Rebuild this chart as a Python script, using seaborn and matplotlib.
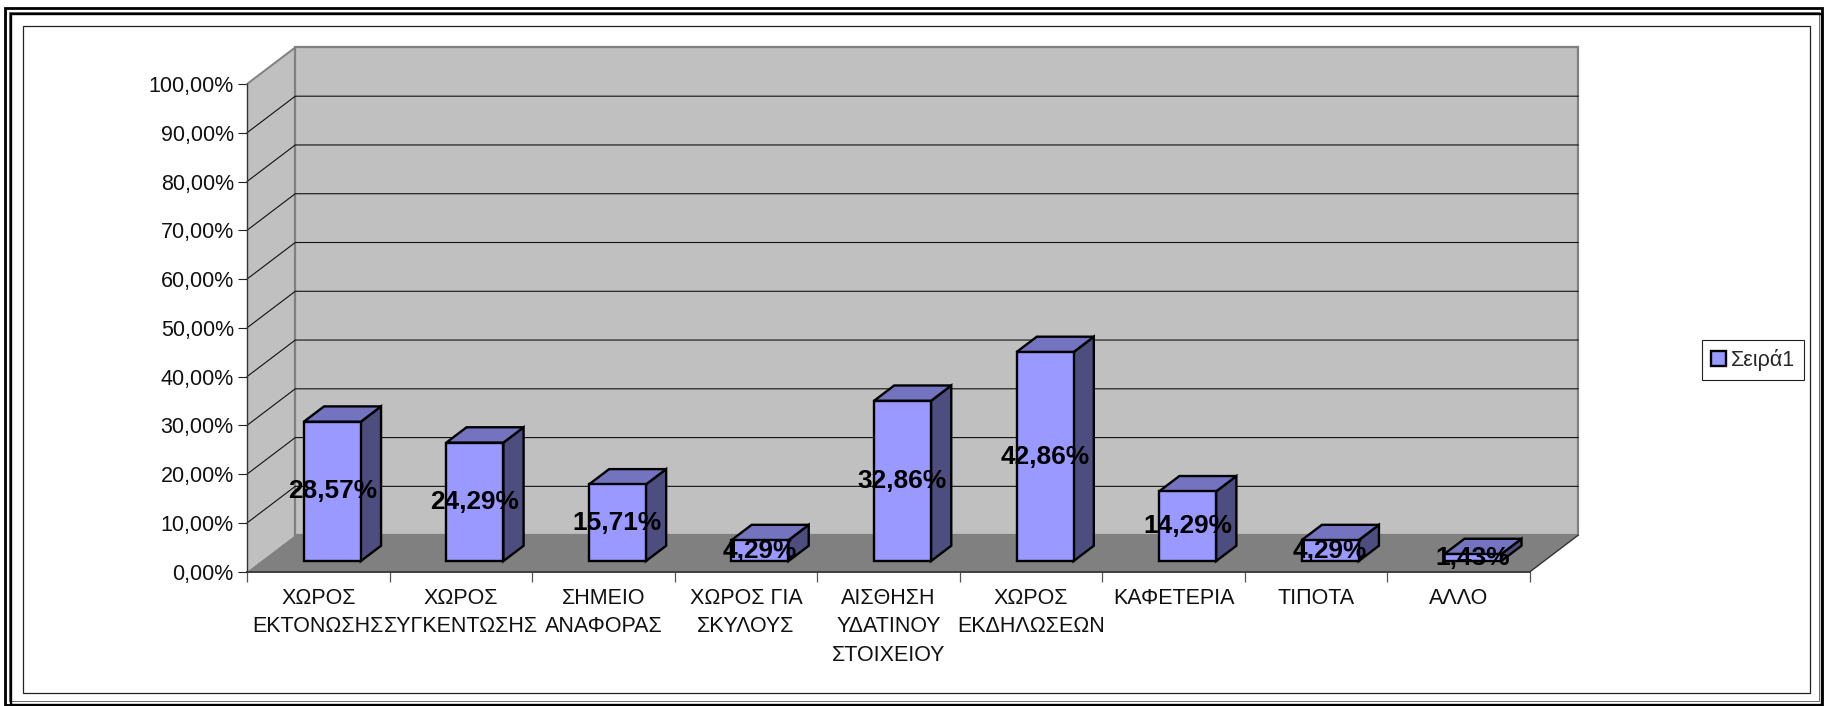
import matplotlib
matplotlib.use("Agg")
import matplotlib.pyplot as plt
from matplotlib.patches import Polygon, Rectangle
import seaborn as sns

categories = [
    "ΧΩΡΟΣ\nΕΚΤΟΝΩΣΗΣ",
    "ΧΩΡΟΣ\nΣΥΓΚΕΝΤΩΣΗΣ",
    "ΣΗΜΕΙΟ\nΑΝΑΦΟΡΑΣ",
    "ΧΩΡΟΣ ΓΙΑ\nΣΚΥΛΟΥΣ",
    "ΑΙΣΘΗΣΗ\nΥΔΑΤΙΝΟΥ\nΣΤΟΙΧΕΙΟΥ",
    "ΧΩΡΟΣ\nΕΚΔΗΛΩΣΕΩΝ",
    "ΚΑΦΕΤΕΡΙΑ",
    "ΤΙΠΟΤΑ",
    "ΑΛΛΟ",
]
values = [28.57, 24.29, 15.71, 4.29, 32.86, 42.86, 14.29, 4.29, 1.43]
y_ticks = [0, 10, 20, 30, 40, 50, 60, 70, 80, 90, 100]
series_name = "Σειρά1"

W, H = 1826, 706
# oblique projection of the excel style 3d box, in data units per full depth
DEPTH_X = 0.3385
DEPTH_Y = 7.5
BAR_D0, BAR_D1 = 0.29, 0.71


def proj(x, y, d):
    return (x + d * DEPTH_X, y + d * DEPTH_Y)


def pct(v):
    return f"{v:.2f}%".replace(".", ",")


sns.set_style("white")
plt.rcParams["font.family"] = ["Liberation Sans", "DejaVu Sans"]

fig = plt.figure(figsize=(W / 100, H / 100), dpi=100, facecolor="white")
ax = fig.add_axes([247 / W, (H - 571.7) / H, (1530 - 247) / W, 487.7 / H])
ax.patch.set_visible(False)

# outer page borders
for x0, y0, x1, y1, lw, col in [
    (4.7, 8, 1822, 705, 2.0, "black"),
    (8.5, 11.5, 1819, 701, 0.6, "#555555"),
    (10.7, 14, 1822, 704.5, 1.7, "black"),
    (23, 26, 1810, 693, 0.9, "#222222"),
]:
    fig.add_artist(
        Rectangle(
            (x0 / W, (H - y1) / H),
            (x1 - x0) / W,
            (y1 - y0) / H,
            transform=fig.transFigure,
            fill=False,
            edgecolor=col,
            linewidth=lw,
        )
    )

# walls and floor
xl, xr = -0.5, 8.5
ax.add_patch(
    Polygon(
        [proj(xl, 0, 0), proj(xl, 100, 0), proj(xl, 100, 1), proj(xl, 0, 1)],
        facecolor="#C0C0C0",
        edgecolor="none",
        clip_on=False,
        zorder=1,
    )
)
ax.add_patch(
    Polygon(
        [proj(xl, 0, 1), proj(xl, 100, 1), proj(xr, 100, 1), proj(xr, 0, 1)],
        facecolor="#C0C0C0",
        edgecolor="#808080",
        linewidth=1.6,
        clip_on=False,
        zorder=1,
    )
)
ax.add_patch(
    Polygon(
        [proj(xl, 0, 0), proj(xl, 0, 1), proj(xr, 0, 1), proj(xr, 0, 0)],
        facecolor="#808080",
        edgecolor="none",
        clip_on=False,
        zorder=1,
    )
)

# gridlines, back wall and side wall
for t in y_ticks:
    a, b, c = proj(xl, t, 0), proj(xl, t, 1), proj(xr, t, 1)
    if 0 < t < 100:
        ax.plot(
            [a[0], b[0], c[0]],
            [a[1], b[1], c[1]],
            color="#111111",
            lw=0.8,
            clip_on=False,
            zorder=2,
        )
a, b = proj(xl, 100, 0), proj(xl, 100, 1)
ax.plot([a[0], b[0]], [a[1], b[1]], color="#808080", lw=1.4, clip_on=False, zorder=2)
a, b = proj(xr, 0, 0), proj(xr, 0, 1)
ax.plot([a[0], b[0]], [a[1], b[1]], color="#333333", lw=1.0, clip_on=False, zorder=2)

# front faces from seaborn, then pushed to the middle of the depth
sns.barplot(
    x=categories,
    y=values,
    color="#9999FF",
    saturation=1,
    width=0.4,
    edgecolor="black",
    linewidth=1.7,
    ax=ax,
    zorder=5,
)
bars = ax.containers[0]
for bar, v in zip(bars, values):
    x0 = bar.get_x()
    x1 = x0 + bar.get_width()
    bar.set_xy(proj(x0, 0, BAR_D0))
    bar.set_clip_on(False)
    side = [
        proj(x1, 0, BAR_D0),
        proj(x1, v, BAR_D0),
        proj(x1, v, BAR_D1),
        proj(x1, 0, BAR_D1),
    ]
    top = [
        proj(x0, v, BAR_D0),
        proj(x1, v, BAR_D0),
        proj(x1, v, BAR_D1),
        proj(x0, v, BAR_D1),
    ]
    ax.add_patch(
        Polygon(side, facecolor="#4D4D80", edgecolor="black", linewidth=1.7,
                clip_on=False, zorder=4)
    )
    ax.add_patch(
        Polygon(top, facecolor="#7373BF", edgecolor="black", linewidth=1.7,
                clip_on=False, zorder=4)
    )

labels = ax.bar_label(
    bars,
    labels=[pct(v) for v in values],
    label_type="center",
    fontsize=18.9,
    fontweight="bold",
    color="black",
    zorder=10,
)

ax.set_xlim(xl, xr)
ax.set_ylim(0, 100)
ax.set_yticks(y_ticks, [pct(t) for t in y_ticks])
ax.set_xticks(range(len(categories)), categories)
ax.set_xticks([i - 0.5 for i in range(len(categories) + 1)], minor=True)
ax.tick_params(axis="y", length=6.5, width=0.8, color="#222222", pad=3, labelsize=15.5,
               left=True, labelcolor="#111111")
ax.tick_params(axis="x", which="major", length=0, pad=11.5, labelsize=15.5, labelcolor="#111111")
ax.tick_params(axis="x", which="minor", length=7, width=0.9, color="#555555", bottom=True)
for lab in ax.get_xticklabels():
    lab.set_linespacing(1.48)

sns.despine(ax=ax, top=True, right=True)
for name in ["left", "bottom"]:
    ax.spines[name].set_visible(True)
    ax.spines[name].set_color("#333333")
ax.spines["left"].set_linewidth(1.0)
ax.spines["bottom"].set_linewidth(1.3)
ax.spines["left"].set_zorder(3)
ax.spines["bottom"].set_zorder(3)
ax.set_xlabel("")
ax.set_ylabel("")

# legend
swatch = Rectangle((0, 0), 1, 1, facecolor="#9999FF", edgecolor="black", linewidth=1.7)
fig.legend(
    [swatch],
    [series_name],
    loc="center",
    bbox_to_anchor=(1753 / W, (H - 360) / H),
    fontsize=15.5,
    frameon=True,
    fancybox=False,
    framealpha=1,
    edgecolor="#222222",
    handlelength=0.68,
    handleheight=0.68,
    handletextpad=0.25,
    borderpad=0.42,
    borderaxespad=0,
).get_frame().set_linewidth(0.8)

fig.savefig("out.png", dpi=100)
